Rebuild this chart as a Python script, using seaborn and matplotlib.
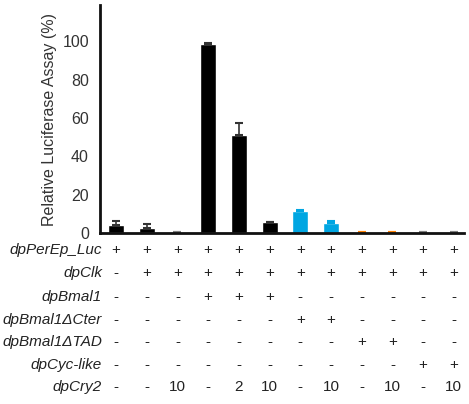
import matplotlib
matplotlib.use("Agg")
import matplotlib.pyplot as plt
import matplotlib.transforms as mtransforms
import seaborn as sns
import pandas as pd

sns.set_style("white")
plt.rcParams['font.family'] = ['Liberation Sans', 'DejaVu Sans']

conditions = [f"c{i}" for i in range(1, 13)]
values = [4.2, 2.6, 0.4, 98.8, 51.3, 5.5, 11.6, 5.4, 0.5, 0.5, 0.3, 0.3]
errors = [2.2, 2.3, 0.2, 0.4, 5.9, 0.3, 0.3, 0.7, 0.1, 0.1, 0.2, 0.2]
bar_colors = ["#000000", "#000000", "#7f7f7f", "#000000", "#000000", "#000000",
              "#00a6e2", "#00a6e2", "#ff8000", "#ff8000", "#7f7f7f", "#7f7f7f"]
row_labels = ["dpPerEp_Luc", "dpClk", "dpBmal1", "dpBmal1\u0394Cter",
              "dpBmal1\u0394TAD", "dpCyc-like", "dpCry2"]
row_perep = ["+"] * 12
row_clk = ["-"] + ["+"] * 11
row_bmal1 = ["-", "-", "-", "+", "+", "+", "-", "-", "-", "-", "-", "-"]
row_cter = ["-", "-", "-", "-", "-", "-", "+", "+", "-", "-", "-", "-"]
row_tad = ["-", "-", "-", "-", "-", "-", "-", "-", "+", "+", "-", "-"]
row_cyc = ["-", "-", "-", "-", "-", "-", "-", "-", "-", "-", "+", "+"]
row_cry2 = ["-", "-", "10", "-", "2", "10", "-", "10", "-", "10", "-", "10"]
table_rows = [row_perep, row_clk, row_bmal1, row_cter, row_tad, row_cyc, row_cry2]
yticks = [0, 20, 40, 60, 80, 100]

W, H = 469, 404
fig = plt.figure(figsize=(W / 100, H / 100), dpi=100)
ax = fig.add_axes([100 / W, (H - 233) / H, 364 / W, 228 / H])

df = pd.DataFrame({"cond": conditions, "val": values})
sns.barplot(data=df, x="cond", y="val", hue="cond", palette=bar_colors,
            legend=False, width=0.52, ax=ax, errorbar=None, saturation=1)

for i, (v, e, c) in enumerate(zip(values, errors, bar_colors)):
    ecol = "#333333" if c == "#000000" else c
    ax.errorbar(i, v, yerr=[[0], [e]], fmt="none", ecolor=ecol,
                elinewidth=1.2, capsize=3, capthick=1.5)

ax.set_xlim(-0.52, 11.33)
ax.set_ylim(0, 119)
ax.set_yticks(yticks)
ax.set_yticklabels([str(t) for t in yticks], fontsize=11.5, color="#333333")
ax.set_xticks([])
ax.set_xlabel("")
ax.set_ylabel("Relative Luciferase Assay (%)", fontsize=11.5, color="#333333",
              labelpad=4)
for s in ["top", "right"]:
    ax.spines[s].set_visible(False)
for s in ["left", "bottom"]:
    ax.spines[s].set_linewidth(2)
    ax.spines[s].set_color("#111111")
ax.tick_params(axis="y", direction="out", length=5, width=1.5, color="#111111", pad=3)

row_y = [250, 273, 297, 320, 342, 365, 387]
trans = mtransforms.blended_transform_factory(ax.transData, fig.transFigure)
for lab, row, ypx in zip(row_labels, table_rows, row_y):
    yf = (H - ypx) / H
    fig.text(102 / W, yf, lab, ha="right", va="center", fontsize=11,
             style="italic", color="#222222")
    for i, t in enumerate(row):
        ax.text(i, yf, t, transform=trans, ha="center", va="center",
                fontsize=11, color="#222222", clip_on=False)

fig.savefig("out.png", dpi=100)
